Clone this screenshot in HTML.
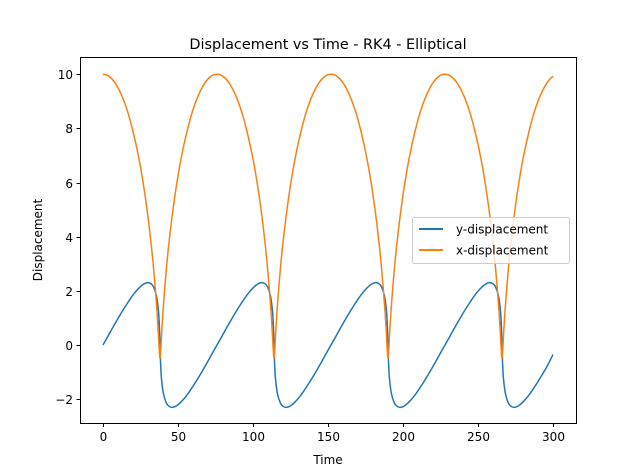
<!DOCTYPE html>
<html><head><meta charset="utf-8">
<style>
html,body{margin:0;padding:0;background:#fff;}
svg{display:block;font-family:"DejaVu Sans","Liberation Sans",sans-serif;}
</style></head>
<body>
<svg id="chart" width="640" height="476" viewBox="0 0 640 476" xmlns="http://www.w3.org/2000/svg">
<rect x="0" y="0" width="640" height="476" fill="#fff"/>
<text x="328" y="49" text-anchor="middle" font-size="14.4" fill="#000">Displacement vs Time - RK4 - Elliptical</text>
<g id="plot"></g>
<g id="axes"></g>
<text x="328" y="464" text-anchor="middle" font-size="12">Time</text>
<text transform="translate(42,240) rotate(-90)" text-anchor="middle" font-size="12">Displacement</text>
<g>
<rect x="412.5" y="217.5" width="157" height="46" rx="2" fill="#fff" fill-opacity="0.8" stroke="#ccc"/>
<line x1="419" y1="229" x2="443" y2="229" stroke="#1f77b4" stroke-width="2"/>
<text x="456" y="233.5" font-size="12">y-displacement</text>
<line x1="419" y1="250" x2="443" y2="250" stroke="#ff7f0e" stroke-width="2"/>
<text x="456" y="254.5" font-size="12">x-displacement</text>
</g>
</svg>
<script>
// one orbit, relative to periapsis time
const orbitDt = [-38.0,-34.7,-30.2,-25.8,-21.6,-17.8,-14.2,-11.1,-8.41,-6.15,-4.31,-2.31,-1.08,-0.58,-0.24,0,0.24,0.58,1.08,2.31,4.31,6.15,8.41,11.1,14.2,17.8,21.6,25.8,30.2,34.7,38.0];
const orbitX = [10,9.95,9.70,9.25,8.62,7.84,6.93,5.94,4.90,3.86,2.85,1.49,0.42,-0.09,-0.40,-0.5,-0.40,-0.09,0.42,1.49,2.85,3.86,4.90,5.94,6.93,7.84,8.62,9.25,9.70,9.95,10];
const orbitY = [0,0.325,0.771,1.188,1.555,1.862,2.094,2.242,2.302,2.269,2.147,1.804,1.300,0.897,0.457,0,-0.457,-0.897,-1.300,-1.804,-2.147,-2.269,-2.302,-2.242,-2.094,-1.862,-1.555,-1.188,-0.771,-0.325,0];
const periapsisTimes = [38,114,190,266];
const tMax = 300;
const finalX = 9.93;
const finalY = -0.35;
const xTicks = [0,50,100,150,200,250,300];
const yTicks = [-2,0,2,4,6,8,10];

const NS="http://www.w3.org/2000/svg";
const L=80,R=576,T=57,B=423;
function sx(v){return 103+v*1.5;}
function sy(v){return 345-v*27.08;}
const plot=document.getElementById('plot'), axes=document.getElementById('axes');

function series(vals,finalVal){
  const pts=[];
  periapsisTimes.forEach((p,pi)=>{
    for(let i=0;i<orbitDt.length;i++){
      if(pi>0 && i===0) continue;
      const t=p+orbitDt[i];
      if(t>=tMax){break;}
      pts.push([t,vals[i]]);
    }
  });
  pts.push([tMax,finalVal]);
  return pts;
}
function smoothPath(pts){
  let d='M'+sx(pts[0][0]).toFixed(2)+','+sy(pts[0][1]).toFixed(2);
  for(let i=0;i<pts.length-1;i++){
    const p0=pts[Math.max(0,i-1)],p1=pts[i],p2=pts[i+1],p3=pts[Math.min(pts.length-1,i+2)];
    const k=1/6;
    const c1=[sx(p1[0])+(sx(p2[0])-sx(p0[0]))*k, sy(p1[1])+(sy(p2[1])-sy(p0[1]))*k];
    const c2=[sx(p2[0])-(sx(p3[0])-sx(p1[0]))*k, sy(p2[1])-(sy(p3[1])-sy(p1[1]))*k];
    d+=' C'+c1[0].toFixed(2)+','+c1[1].toFixed(2)+' '+c2[0].toFixed(2)+','+c2[1].toFixed(2)+' '+sx(p2[0]).toFixed(2)+','+sy(p2[1]).toFixed(2);
  }
  return d;
}
const ly=document.createElementNS(NS,'path');
ly.setAttribute('d',smoothPath(series(orbitY,finalY)));
ly.setAttribute('fill','none');ly.setAttribute('stroke','#1f77b4');ly.setAttribute('stroke-width','1.5');


plot.appendChild(ly);
const lx=document.createElementNS(NS,'path');
lx.setAttribute('d',smoothPath(series(orbitX,finalX)));
lx.setAttribute('fill','none');lx.setAttribute('stroke','#ff7f0e');lx.setAttribute('stroke-width','1.5');


plot.appendChild(lx);

const frame=document.createElementNS(NS,'rect');
frame.setAttribute('x',L+0.5);frame.setAttribute('y',T+0.5);frame.setAttribute('width',R-L);frame.setAttribute('height',B-T);
frame.setAttribute('fill','none');frame.setAttribute('stroke','#000');frame.setAttribute('stroke-width','1');


axes.appendChild(frame);

xTicks.forEach(v=>{
  const x=Math.round(sx(v))+0.5;
  const tk=document.createElementNS(NS,'line');
  tk.setAttribute('x1',x);tk.setAttribute('x2',x);tk.setAttribute('y1',B+0.5);tk.setAttribute('y2',B+4);
  tk.setAttribute('stroke','#000');
  
  
  axes.appendChild(tk);
  const tx=document.createElementNS(NS,'text');
  tx.setAttribute('x',x);tx.setAttribute('y',B+18);tx.setAttribute('text-anchor','middle');tx.setAttribute('font-size','12');
  tx.textContent=v;
  
  
  axes.appendChild(tx);
});
yTicks.forEach(v=>{
  const y=Math.round(sy(v))+0.5;
  const tk=document.createElementNS(NS,'line');
  tk.setAttribute('x1',L-3.5);tk.setAttribute('x2',L+0.5);tk.setAttribute('y1',y);tk.setAttribute('y2',y);
  tk.setAttribute('stroke','#000');
  
  
  axes.appendChild(tk);
  const tx=document.createElementNS(NS,'text');
  tx.setAttribute('x',L-7);tx.setAttribute('y',y+4.5);tx.setAttribute('text-anchor','end');tx.setAttribute('font-size','12');
  tx.textContent=(v<0?'\u2212'+(-v):v);
  
  
  axes.appendChild(tx);
});
</script>
</body></html>
